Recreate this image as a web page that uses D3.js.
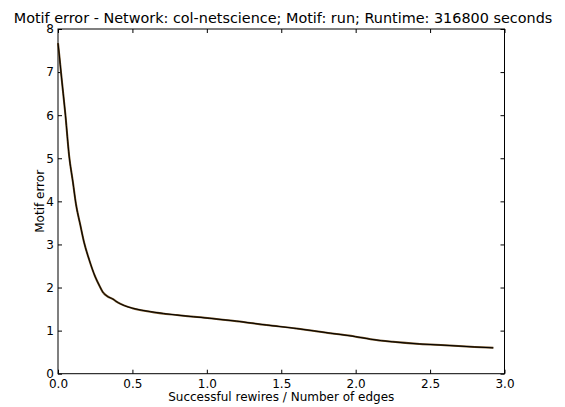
<!DOCTYPE html>
<html>
<head>
<meta charset="utf-8">
<script src="https://cdn.jsdelivr.net/npm/d3@7"></script>
<style>
  body { margin: 0; background: #fff; }
  text { font-family: "DejaVu Sans", sans-serif; fill: #000; }
</style>
</head>
<body>
<div id="chart"></div>
<script>
// Values
var rewires = [0, 0.01, 0.02, 0.05, 0.075, 0.1, 0.12, 0.15, 0.175, 0.21, 0.25, 0.28, 0.30, 0.33, 0.37, 0.39, 0.42, 0.47, 0.5, 0.62, 0.8, 1.02, 1.2, 1.4, 1.6, 1.83, 2.0, 2.1, 2.25, 2.43, 2.6, 2.8, 2.925];
var motifError = [7.67, 7.35, 7.0, 6.0, 5.05, 4.45, 3.95, 3.45, 3.05, 2.64, 2.25, 2.03, 1.9, 1.8, 1.73, 1.68, 1.62, 1.55, 1.52, 1.44, 1.36, 1.285, 1.22, 1.13, 1.05, 0.94, 0.86, 0.8, 0.74, 0.69, 0.66, 0.62, 0.60];
var xTicks = [0, 0.5, 1.0, 1.5, 2.0, 2.5, 3.0];
var yTicks = [0, 1, 2, 3, 4, 5, 6, 7, 8];

var data = rewires.map(function (r, i) { return { x: r, y: motifError[i] }; });

// Set the dimensions and margins of the graph
var width = 565, height = 407;
var margin = { top: 29, right: 60.5, bottom: 33.3, left: 58 };
var innerW = width - margin.left - margin.right;
var innerH = height - margin.top - margin.bottom;

var svg = d3.select("#chart")
    .append("svg")
    .attr("width", width)
    .attr("height", height);

var g = svg.append("g")
    .attr("transform", "translate(" + margin.left + "," + margin.top + ")");

var x = d3.scaleLinear().domain([0, 3]).range([0, innerW]);
var y = d3.scaleLinear().domain([0, 8]).range([innerH, 0]);

// Inward ticks on all four sides (matplotlib style)
function styleAxis(sel) {
    sel.select(".domain").remove();
    sel.selectAll(".tick line").attr("stroke", "#000");
    sel.selectAll("text").style("font-size", "12px").style("font-family", "DejaVu Sans, sans-serif");
}

g.append("g")
    .attr("transform", "translate(0," + innerH + ")")
    .call(d3.axisBottom(x).tickValues(xTicks).tickFormat(d3.format(".1f")).tickSizeInner(-4).tickPadding(6))
    .call(styleAxis);

g.append("g")
    .call(d3.axisTop(x).tickValues(xTicks).tickFormat("").tickSizeInner(-4))
    .call(styleAxis);

g.append("g")
    .call(d3.axisLeft(y).tickValues(yTicks).tickFormat(d3.format("d")).tickSizeInner(-4).tickPadding(4))
    .call(styleAxis);

g.append("g")
    .attr("transform", "translate(" + innerW + ",0)")
    .call(d3.axisRight(y).tickValues(yTicks).tickFormat("").tickSizeInner(-4))
    .call(styleAxis);

// Frame
g.append("rect")
    .attr("width", innerW)
    .attr("height", innerH)
    .attr("fill", "none")
    .attr("stroke", "#000")
    .attr("stroke-width", 1);

// The curve
var line = d3.line()
    .x(function (d) { return x(d.x); })
    .y(function (d) { return y(d.y); })
    .curve(d3.curveMonotoneX);

g.append("path")
    .datum(data)
    .attr("fill", "none")
    .attr("stroke", "#6b4a1e")
    .attr("stroke-width", 2)
    .attr("d", line);

g.append("path")
    .datum(data)
    .attr("fill", "none")
    .attr("stroke", "#000")
    .attr("stroke-width", 1)
    .attr("d", line);

// Title and labels
svg.append("text")
    .attr("x", 283)
    .attr("y", 23)
    .attr("text-anchor", "middle")
    .style("font-size", "14.4px")
    .text("Motif error - Network: col-netscience; Motif: run; Runtime: 316800 seconds");

svg.append("text")
    .attr("x", margin.left + innerW / 2)
    .attr("y", 401)
    .attr("text-anchor", "middle")
    .style("font-size", "12px")
    .text("Successful rewires / Number of edges");

svg.append("text")
    .attr("transform", "translate(44," + (margin.top + innerH / 2) + ") rotate(-90)")
    .attr("text-anchor", "middle")
    .style("font-size", "12px")
    .text("Motif error");
</script>
</body>
</html>
